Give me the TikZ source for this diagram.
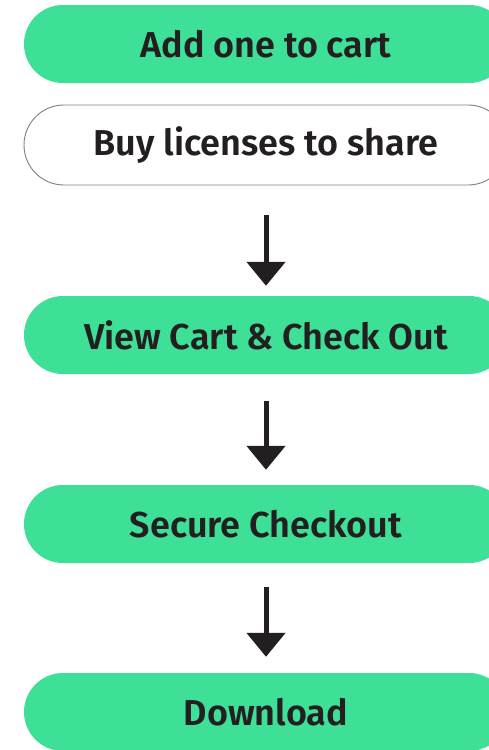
\documentclass[tikz,border=0pt]{standalone}
\usepackage{fontspec}
\setmainfont{Fira Sans}[BoldFont={Fira Sans SemiBold}]
\usetikzlibrary{arrows.meta,shapes.misc}
\definecolor{pillgreen}{RGB}{62,223,150}
\definecolor{txt}{RGB}{35,31,32}
\definecolor{outl}{RGB}{128,128,128}
\tikzset{
  pill/.style={rounded rectangle, minimum width=484pt, minimum height=78pt, inner sep=0pt,
    font=\fontsize{36}{40}\selectfont\bfseries, text=txt},
  greenpill/.style={pill, fill=pillgreen},
  whitepill/.style={pill, draw=outl, line width=0.9pt, fill=white, minimum height=80pt},
  flow/.style={draw=txt, fill=txt, line width=5pt, -{Triangle[width=38pt,length=24pt]}}
}
\begin{document}
\begin{tikzpicture}[x=1pt,y=1pt]
\clip (0,0) rectangle (489,-750);
\fill[white] (0,0) rectangle (489,-750);
\node[greenpill] (b1) at (266,-44) {Add one to cart};
\node[whitepill] (b2) at (266,-145) {Buy licenses to share};
\node[greenpill] (b3) at (266,-335) {View Cart \& Check Out};
\node[greenpill] (b4) at (266,-524) {Secure Checkout};
\node[greenpill] (b5) at (266,-712) {Download};
\draw[flow] ([yshift=-30pt]b2.south) -- ([yshift=10pt]b3.north);
\draw[flow] ([yshift=-27pt]b3.south) -- ([yshift=15pt]b4.north);
\draw[flow] ([yshift=-24pt]b4.south) -- ([yshift=16pt]b5.north);
\end{tikzpicture}
\end{document}
